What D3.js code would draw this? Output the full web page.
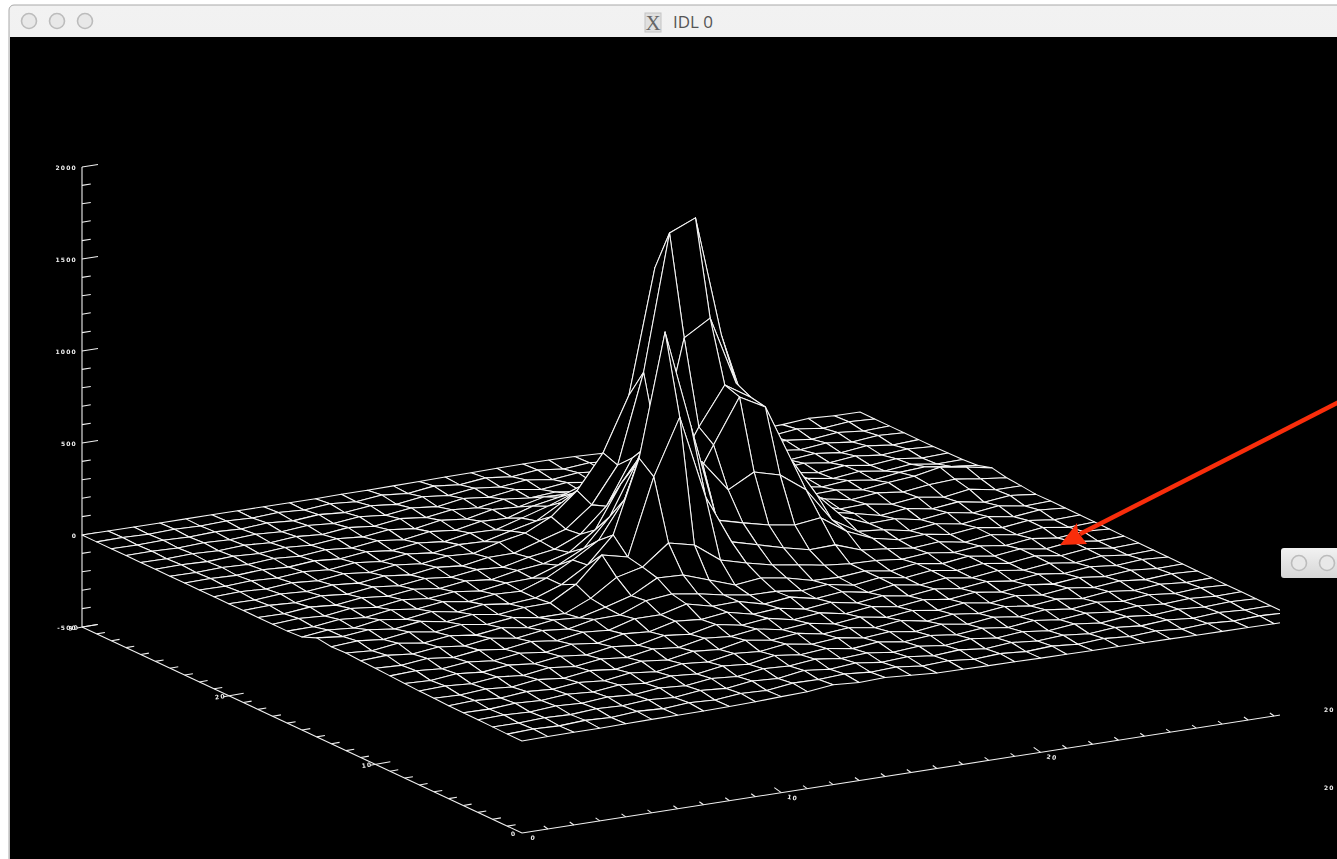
<!DOCTYPE html>
<html>
<head>
<meta charset="utf-8">
<title>IDL 0</title>
<script src="https://cdn.jsdelivr.net/npm/d3@7"></script>
<style>
  html, body { margin: 0; padding: 0; background: #fff; overflow: hidden; }
  svg { display: block; }
  .cell { fill: #000; stroke: #f6f6f6; stroke-width: 1.05; stroke-linejoin: round; }
  .axis { stroke: #f0f0f0; stroke-width: 1.1; fill: none; }
  .tick-label { fill: #f0f0f0; font-family: "DejaVu Sans", sans-serif; font-size: 6px; font-weight: bold; letter-spacing: 1.2px; }
  .title { fill: #555; font-family: "Open Sans", sans-serif; font-size: 17px; }
</style>
</head>
<body>
<svg width="1337" height="859"></svg>
<script>
// surface heights, one list per row (front row first)
const row00 = [0,2,4,3,6,8,9,10,12,16,22,27,43,33,38,28,19,17,15,14,12,11,10,9,8,7,5,4,3,2,0];
const row01 = [0,6,1,9,3,14,7,17,10,24,18,36,34,42,30,36,20,26,12,21,10,18,6,15,4,13,2,10,1,7,2];
const row02 = [2,1,8,3,13,7,18,8,25,14,32,24,46,30,42,24,32,16,26,10,22,8,18,4,16,3,13,1,10,2,3];
const row03 = [3,7,2,13,5,17,8,23,13,30,19,40,33,48,29,38,20,30,13,27,9,22,5,20,3,16,2,12,3,9,3];
const row04 = [4,2,12,5,17,7,24,11,29,18,39,27,52,34,47,24,38,17,30,12,25,7,23,5,19,4,15,3,11,2,4];
const row05 = [5,11,3,16,7,22,9,29,14,36,23,48,37,55,32,45,22,35,14,31,10,26,6,22,5,19,3,16,1,11,4];
const row06 = [8,4,15,4,22,7,27,12,34,19,44,32,61,39,54,29,41,19,36,11,27,9,25,5,21,3,19,2,14,2,5];
const row07 = [10,16,6,21,7,27,12,31,17,42,28,56,44,63,37,50,24,40,16,32,11,28,7,24,6,22,3,17,2,12,5];
const row08 = [14,8,23,10,26,12,31,15,38,24,55,41,72,46,61,32,47,20,38,15,31,11,27,7,24,6,20,3,16,3,6];
const row09 = [18,24,13,28,13,31,15,36,20,49,39,74,62,79,46,57,30,45,20,37,14,30,11,27,7,23,5,19,4,15,6];
const row10 = [22,16,31,15,33,16,36,18,43,31,72,72,108,74,78,42,58,28,43,18,36,14,30,10,27,7,23,4,18,2,7];
const row11 = [26,33,18,35,18,38,16,36,23,52,55,110,125,105,76,54,52,34,46,20,38,16,34,12,28,8,25,5,21,3,8];
const row12 = [30,21,40,19,37,18,36,14,34,25,60,100,175,169,120,71,87,65,30,25,38,16,34,12,30,10,26,5,22,3,8];
const row13 = [27,37,23,41,20,38,16,32,10,10,71,163,197,306,273,170,132,99,78,54,40,35,20,32,13,27,7,23,4,18,9];
const row14 = [38,23,38,20,40,16,34,12,28,30,110,247,214,628,931,475,209,171,133,100,105,55,40,22,34,10,28,7,24,4,10];
const row15 = [5,22,10,33,14,34,10,28,10,20,70,155,297,692,1356,823,290,253,220,198,215,120,60,30,37,14,30,8,25,7,11];
const row16 = [0,2,19,8,28,11,28,7,25,20,70,145,230,430,800,650,568,395,470,432,330,145,60,47,20,36,12,31,8,23,12];
const row17 = [0,9,1,20,5,24,8,23,5,27,31,80,150,300,560,500,360,602,841,764,455,240,100,43,47,20,38,13,30,7,12];
const row18 = [0,-2,12,1,19,5,21,4,23,8,36,50,90,190,420,600,420,662,868,780,480,200,90,60,28,44,20,36,12,27,11];
const row19 = [0,6,-1,14,1,18,3,21,6,25,16,48,70,130,260,500,527,1109,1195,820,520,230,90,48,53,30,46,24,45,21,20];
const row20 = [0,-2,9,0,14,2,19,3,22,8,32,33,78,120,230,424,907,1642,1702,1043,600,270,100,65,39,54,37,55,63,43,27];
const row21 = [0,5,-1,10,0,16,1,19,4,24,16,55,83,150,270,453,745,1415,1200,800,480,250,90,50,54,34,51,63,90,70,43];
const row22 = [0,-2,6,-1,11,0,16,1,20,4,27,22,57,90,170,260,420,665,700,600,360,180,80,56,33,47,28,47,56,35,20];
const row23 = [0,3,-2,7,-1,11,0,17,1,20,6,31,27,68,110,160,250,350,420,340,220,120,60,31,43,20,37,17,32,11,14];
const row24 = [0,-2,4,-2,8,-1,12,0,17,1,23,9,35,30,75,100,150,190,220,190,130,80,53,24,37,14,31,11,25,7,12];
const row25 = [0,3,-2,5,-2,9,-1,13,1,18,2,25,11,40,32,65,60,90,80,90,60,58,28,36,15,29,9,24,7,18,10];
const row26 = [0,-2,3,-2,6,-2,9,-1,14,0,19,3,24,12,37,22,32,13,22,6,28,20,36,12,28,9,22,5,20,3,10];
const row27 = [0,2,-2,4,-2,6,-2,10,-1,14,0,18,3,25,10,30,9,24,4,21,6,28,12,27,8,22,5,20,3,17,10];
const row28 = [0,-2,2,-2,4,-2,8,-2,10,-1,14,0,19,4,22,7,23,4,18,3,19,6,24,6,21,5,19,3,18,4,10];
const row29 = [0,2,-2,3,-2,4,-2,6,-2,10,-1,13,0,18,3,19,3,18,1,14,0,16,2,19,5,19,6,22,4,17,10];
const row30 = [0,0,0,0,0,0,0,0,0,0,2,2,4,6,8,10,12,13,13,10,5,3,2,2,2,0,2,8,20,12,11];

const surface = [row00,row01,row02,row03,row04,row05,row06,row07,row08,row09,row10,
                 row11,row12,row13,row14,row15,row16,row17,row18,row19,row20,
                 row21,row22,row23,row24,row25,row26,row27,row28,row29,row30];

// axis ticks
const zMajor = [-500, 0, 500, 1000, 1500, 2000];
const zMinor = d3.range(-500, 2001, 100);
const gridMajor = [0, 10, 20, 30];
const gridMinor = d3.range(0, 31);

const svg = d3.select("svg");

// orthographic view: screen position is a sum of one scale per data axis
const originX = 522, originY = 741;
const scales = {
  ix: d3.scaleLinear().domain([0, 30]).range([0, 778]),
  iy: d3.scaleLinear().domain([0, 30]).range([0, -121]),
  jx: d3.scaleLinear().domain([0, 30]).range([0, -440]),
  jy: d3.scaleLinear().domain([0, 30]).range([0, -206]),
  z:  d3.scaleLinear().domain([-500, 2000]).range([92, -368])
};

function project(i, j, z) {
  return [originX + scales.ix(i) + scales.jx(j),
          originY + scales.iy(i) + scales.jy(j) + scales.z(z)];
}

const line = d3.line();

// window frame
const defs = svg.append("defs");
const bar = defs.append("linearGradient").attr("id", "bar").attr("x2", 0).attr("y2", 1);
bar.append("stop").attr("offset", 0).attr("stop-color", "#f2f2f2");
bar.append("stop").attr("offset", 1).attr("stop-color", "#d6d6d6");
defs.append("clipPath").attr("id", "plotclip")
  .append("rect").attr("x", 10).attr("y", 37).attr("width", 1270).attr("height", 822);
const soft = defs.append("filter").attr("id", "soft")
  .attr("filterUnits", "userSpaceOnUse")
  .attr("x", 0).attr("y", 0).attr("width", 1337).attr("height", 859);
soft.append("feGaussianBlur").attr("stdDeviation", 0.4);

svg.append("rect").attr("x", 9).attr("y", 5).attr("width", 1340).attr("height", 870)
  .attr("rx", 5).attr("fill", "url(#bar)").attr("stroke", "#a8a8a8");
svg.append("rect").attr("x", 10).attr("y", 37).attr("width", 1327).attr("height", 822)
  .attr("fill", "#000");

function buttons(x0, y, g) {
  g.selectAll("circle.btn").data([0, 1, 2]).join("circle")
    .attr("class", "btn")
    .attr("cx", d => x0 + d * 28).attr("cy", y).attr("r", 7.5)
    .attr("fill", "#e8e8e8").attr("stroke", "#bcbcbc").attr("stroke-width", 1.6);
}
buttons(29, 21, svg.append("g"));

// title with the X icon
svg.append("rect").attr("x", 645).attr("y", 13).attr("width", 16).attr("height", 19)
  .attr("fill", "#e0e0e0").attr("stroke", "#c4c4c4");
svg.append("text").attr("x", 653).attr("y", 30).attr("text-anchor", "middle")
  .attr("font-family", "Liberation Serif, serif").attr("font-size", 21).attr("fill", "#666").text("X");
svg.append("text").attr("class", "title").attr("x", 673).attr("y", 28).text("IDL 0");

const plot = svg.append("g").attr("clip-path", "url(#plotclip)")
  .append("g").attr("filter", "url(#soft)");

// z axis, at the far left corner of the grid
plot.append("path").attr("class", "axis").attr("d", line([project(0, 30, -500), project(0, 30, 2000)]));
plot.selectAll("path.ztick").data(zMinor).join("path")
  .attr("class", "axis ztick")
  .attr("d", d => {
    const p = project(0, 30, d);
    const len = zMajor.includes(d) ? 1 : 0.55;
    return line([p, [p[0] + 16 * len, p[1] - 2.5 * len]]);
  });
plot.selectAll("text.zlabel").data(zMajor).join("text")
  .attr("class", "tick-label zlabel").attr("text-anchor", "end")
  .attr("x", d => project(0, 30, d)[0] - 5)
  .attr("y", d => project(0, 30, d)[1] + 3)
  .text(d => d);

// grid axes, on the floor of the box
plot.append("path").attr("class", "axis").attr("d", line([project(0, 0, -500), project(0, 30, -500)]));
plot.append("path").attr("class", "axis").attr("d", line([project(0, 0, -500), project(30, 0, -500)]));

plot.selectAll("path.jtick").data(gridMinor.slice(1)).join("path")
  .attr("class", "axis jtick")
  .attr("d", d => {
    const p = project(0, d, -500);
    const major = gridMajor.includes(d);
    const len = major ? 1 : 0.55;
    return line([[p[0] - (major ? 5 : 0), p[1] + (major ? 1 : 0)],
                 [p[0] + 15 * len, p[1] - 2.5 * len]]);
  });
plot.selectAll("path.itick").data(gridMinor.slice(1)).join("path")
  .attr("class", "axis itick")
  .attr("d", d => {
    const p = project(d, 0, -500);
    const len = gridMajor.includes(d) ? 1 : 0.6;
    return line([p, [p[0] - 7 * len, p[1] - 5 * len]]);
  });

plot.selectAll("text.jlabel").data(gridMajor).join("text")
  .attr("class", "tick-label jlabel").attr("text-anchor", "middle")
  .attr("transform", d => {
    const p = project(0, d, -500);
    return `translate(${p[0] - 8},${p[1] + 3}) rotate(-8)`;
  })
  .text(d => d);
plot.selectAll("text.ilabel").data(gridMajor.slice(0, 3)).join("text")
  .attr("class", "tick-label ilabel").attr("text-anchor", "middle")
  .attr("transform", d => {
    const p = project(d, 0, -500);
    return `translate(${p[0] + 11},${p[1] + 7}) rotate(10)`;
  })
  .text(d => d);

// back cells first: each black quad hides whatever lies behind it
const cells = [];
for (let j = 29; j >= 0; j--) {
  for (let i = 29; i >= 0; i--) {
    cells.push({i: i, j: j});
  }
}

plot.selectAll("path.cell").data(cells).join("path")
  .attr("class", "cell")
  .attr("d", c => line([
    project(c.i,     c.j,     surface[c.j][c.i]),
    project(c.i + 1, c.j,     surface[c.j][c.i + 1]),
    project(c.i + 1, c.j + 1, surface[c.j + 1][c.i + 1]),
    project(c.i,     c.j + 1, surface[c.j + 1][c.i])
  ]) + "Z");

// second IDL window peeking in from the right
svg.append("rect").attr("x", 1281).attr("y", 548).attr("width", 70).attr("height", 30)
  .attr("rx", 3).attr("fill", "url(#bar)");
buttons(1299, 563, svg.append("g"));
svg.append("g").attr("filter", "url(#soft)")
  .selectAll("text.other").data([710, 788]).join("text")
  .attr("class", "tick-label other")
  .attr("x", 1324).attr("y", d => d + 2)
  .text("20");

// red arrow
svg.append("path").attr("d", line([[1345, 399], [1080, 534]]))
  .attr("stroke", "#f92d0b").attr("stroke-width", 4.5).attr("fill", "none");
svg.append("path").attr("d", line([[1060, 545], [1077, 523], [1078, 532], [1087, 544]]) + "Z")
  .attr("fill", "#f92d0b");
</script>
</body>
</html>
